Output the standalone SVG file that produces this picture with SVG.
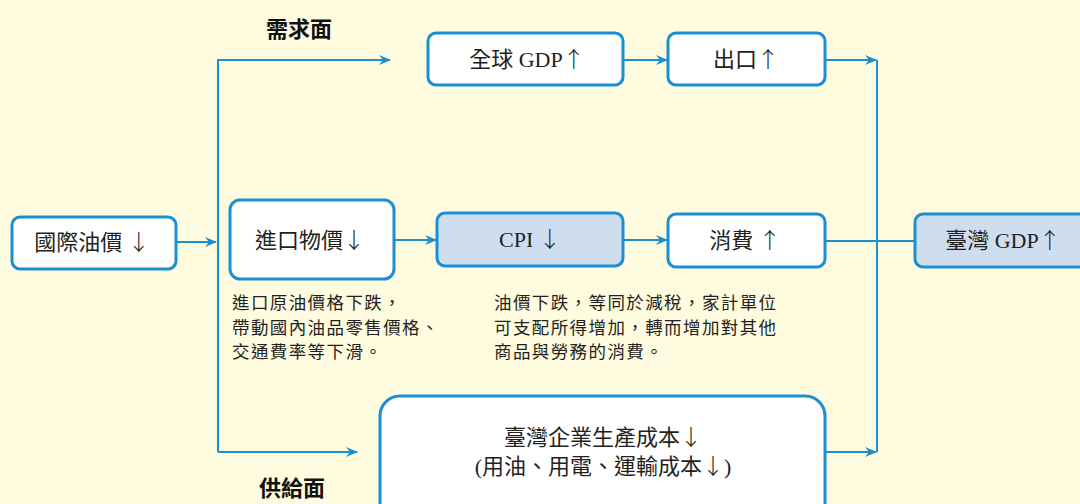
<svg xmlns="http://www.w3.org/2000/svg" width="1080" height="504" viewBox="0 0 1080 504">
<defs>
<marker id="ah" viewBox="0 0 12 10" refX="11" refY="5" markerWidth="12" markerHeight="10" markerUnits="userSpaceOnUse" orient="auto">
<path d="M0,0 L12,5 L0,10 L4,5 Z" fill="#1a8fd2"/>
</marker>
<style>
.box{fill:#fff;stroke:#1a8fd2;stroke-width:3}
.hl{fill:#cfdeef}
.t{font-family:"Liberation Serif","Noto Sans CJK TC",serif;font-size:22px;fill:#231f20;text-anchor:middle}
.a{font-family:"Noto Sans CJK TC",sans-serif;font-weight:300;fill:#231f20}
.n{font-family:"Noto Sans CJK TC",sans-serif;font-size:17.5px;letter-spacing:1.4px;fill:#231f20}
.h{font-family:"Noto Sans CJK TC",sans-serif;font-size:22px;font-weight:bold;fill:#111;text-anchor:middle}
.c{fill:none;stroke:#1a8fd2;stroke-width:2}
</style>
</defs>
<rect width="1080" height="504" fill="#fffbdf"/>
<g id="connectors">
<path class="c" d="M176,242 H216" marker-end="url(#ah)"/>
<path class="c" d="M218,452 V60 H390" marker-end="url(#ah)"/>
<path class="c" d="M218,452 H357" marker-end="url(#ah)"/>
<path class="c" d="M394,240 H436" marker-end="url(#ah)"/>
<path class="c" d="M623,240 H667" marker-end="url(#ah)"/>
<path class="c" d="M623,60 H667" marker-end="url(#ah)"/>
<path class="c" d="M825,60 H876" marker-end="url(#ah)"/>
<path class="c" d="M877,60 V452"/>
<path class="c" d="M825,452 H876" marker-end="url(#ah)"/>
<path class="c" d="M825,241 H915"/>
</g>
<g id="label-demand"><text class="h" x="299" y="37">需求面</text></g>
<g id="label-supply"><text class="h" x="292" y="496">供給面</text></g>
<g id="oil"><rect class="box" x="12" y="217" width="164" height="52" rx="8"/><text class="t" x="92" y="250">國際油價 <tspan class="a">↓</tspan></text></g>
<g id="import"><rect class="box" x="230" y="200" width="164" height="79" rx="10"/><text class="t" x="310" y="248">進口物價<tspan class="a">↓</tspan></text></g>
<g id="cpi"><rect class="box hl" x="437" y="213" width="186" height="53" rx="8"/><text class="t" x="530" y="247">CPI <tspan class="a">↓</tspan></text></g>
<g id="consume"><rect class="box" x="668" y="214" width="157" height="53" rx="8"/><text class="t" x="745" y="248">消費 <tspan class="a">↑</tspan></text></g>
<g id="gdp-tw"><rect class="box hl" x="915" y="214" width="175" height="53" rx="8"/><text class="t" x="1003" y="248">臺灣 GDP<tspan class="a">↑</tspan></text></g>
<g id="gdp-world"><rect class="box" x="428" y="33" width="195" height="52" rx="8"/><text class="t" x="527" y="67">全球 GDP<tspan class="a">↑</tspan></text></g>
<g id="export"><rect class="box" x="668" y="33" width="157" height="52" rx="8"/><text class="t" x="746" y="67">出口<tspan class="a">↑</tspan></text></g>
<g id="cost"><rect class="box" x="380" y="396" width="445" height="130" rx="20"/><text class="t" x="603" y="445">臺灣企業生產成本<tspan class="a">↓</tspan></text><text class="t" x="603" y="474">(用油、用電、運輸成本<tspan class="a">↓</tspan>)</text></g>
<g id="note-import"><text class="n" x="232" y="309">進口原油價格下跌，</text><text class="n" x="232" y="334">帶動國內油品零售價格、</text><text class="n" x="232" y="358">交通費率等下滑。</text></g>
<g id="note-cpi"><text class="n" x="494" y="309">油價下跌，等同於減稅，家計單位</text><text class="n" x="494" y="334">可支配所得增加，轉而增加對其他</text><text class="n" x="494" y="358">商品與勞務的消費。</text></g>
</svg>
